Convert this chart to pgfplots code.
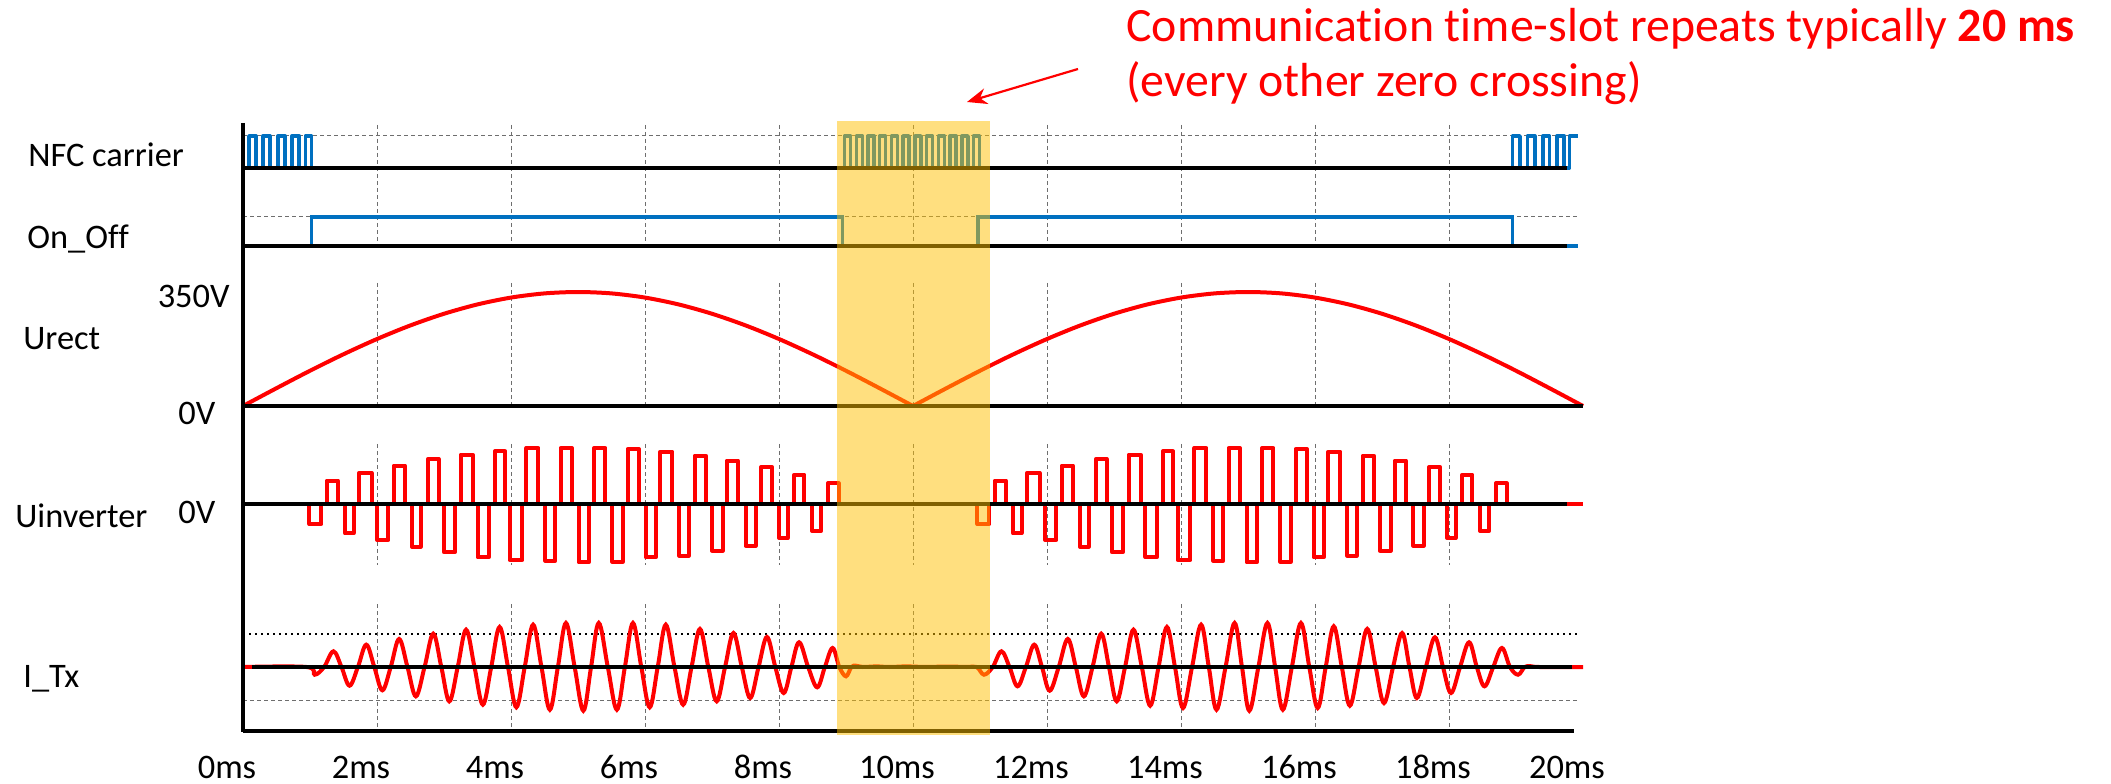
\documentclass[border=0pt]{standalone}
\usepackage{pgfplots}
\pgfplotsset{compat=1.18}
\usepackage{pgfplotstable}
\usepackage{fontspec}
\setmainfont{Carlito}[Ligatures=NoCommon]
\usetikzlibrary{arrows.meta}
\definecolor{nfcblue}{RGB}{0,112,192}
\definecolor{gold}{RGB}{255,192,0}
\definecolor{gridgray}{RGB}{110,110,110}
\newcommand{\lbl}{\fontsize{17.2}{20}\selectfont}
\tikzset{gridline/.style={gridgray, line width=0.5pt, dash pattern=on 2pt off 1.5pt}}

% NFC carrier (logic level)
\pgfplotstableread{
t v
0 0
0.09 1
0.19 0
0.30 1
0.40 0
0.52 1
0.63 0
0.73 1
0.84 0
0.93 1
1.02 0
8.98 1
9.07 0
9.155 1
9.245 0
9.33 1
9.42 0
9.50 1
9.59 0
9.68 1
9.77 0
9.85 1
9.94 0
10.03 1
10.12 0
10.20 1
10.29 0
10.38 1
10.47 0
10.55 1
10.64 0
10.73 1
10.82 0
10.90 1
10.99 0
18.95 1
19.06 0
19.17 1
19.28 0
19.40 1
19.50 0
19.61 1
19.72 0
19.80 1
19.93 1
}\nfc

% On_Off (logic level)
\pgfplotstableread{
t v
0 0
1.02 1
8.95 0
10.97 1
18.95 0
19.93 0
}\onoff

% Urect in V
\pgfplotstableread{
t V
0 0
0.5 54.7
1 108.2
1.5 158.9
2 205.7
2.5 247.5
3 283.2
3.5 311.9
4 332.9
4.5 345.7
5 350
5.5 345.7
6 332.9
6.5 311.9
7 283.2
7.5 247.5
8 205.7
8.5 158.9
9 108.2
9.5 54.7
10 0
}\urectA
\pgfplotstableread{
t V
10 0
10.5 54.7
11 108.2
11.5 158.9
12 205.7
12.5 247.5
13 283.2
13.5 311.9
14 332.9
14.5 345.7
15 350
15.5 345.7
16 332.9
16.5 311.9
17 283.2
17.5 247.5
18 205.7
18.5 158.9
19 108.2
19.5 54.7
20 0
}\urectB

% Uinverter (relative amplitude)
\pgfplotstableread{
t v
0 0
0.99 -20
1.17 0
1.25 23.3
1.42 0
1.52 -29.3
1.65 0
1.73 31
1.92 0
2.00 -36
2.17 0
2.25 38.3
2.42 0
2.52 -42.7
2.65 0
2.76 45
2.92 0
3.00 -48.3
3.16 0
3.25 49.3
3.43 0
3.50 -53.3
3.67 0
3.76 52.7
3.91 0
3.98 -56
4.17 0
4.23 56
4.41 0
4.51 -56.7
4.66 0
4.74 56
4.91 0
5.01 -58.3
5.16 0
5.24 56
5.41 0
5.51 -57.7
5.67 0
5.74 55
5.91 0
6.01 -53.3
6.16 0
6.23 52.3
6.41 0
6.51 -51.7
6.65 0
6.74 48.3
6.91 0
7.00 -46.7
7.16 0
7.22 43.3
7.39 0
7.50 -41.7
7.65 0
7.73 36.7
7.90 0
8.00 -34
8.13 0
8.23 29.3
8.38 0
8.49 -26.7
8.63 0
8.73 20.7
8.89 0
10.96 -20
11.14 0
11.22 23.3
11.39 0
11.49 -29.3
11.62 0
11.70 31
11.89 0
11.97 -36
12.14 0
12.22 38.3
12.39 0
12.49 -42.7
12.62 0
12.73 45
12.89 0
12.97 -48.3
13.13 0
13.22 49.3
13.40 0
13.47 -53.3
13.64 0
13.73 52.7
13.88 0
13.95 -56
14.14 0
14.20 56
14.38 0
14.48 -56.7
14.63 0
14.71 56
14.88 0
14.98 -58.3
15.13 0
15.21 56
15.38 0
15.48 -57.7
15.64 0
15.71 55
15.88 0
15.98 -53.3
16.13 0
16.20 52.3
16.38 0
16.48 -51.7
16.62 0
16.71 48.3
16.88 0
16.97 -46.7
17.13 0
17.19 43.3
17.36 0
17.47 -41.7
17.62 0
17.70 36.7
17.87 0
17.97 -34
18.10 0
18.20 29.3
18.35 0
18.46 -26.7
18.60 0
18.70 20.7
18.86 0
20 0
}\uinv

% I_Tx (relative amplitude)
\pgfplotstableread{
t v
0 0
0.95 0
1.07 -7.7
1.21 0
1.35 15.7
1.47 0
1.59 -18.7
1.715 0
1.84 22.3
1.96 0
2.08 -23.3
2.205 0
2.33 28
2.455 0
2.58 -29.3
2.71 0
2.84 33.3
2.96 0
3.08 -34.3
3.205 0
3.33 37.3
3.455 0
3.58 -37.7
3.705 0
3.83 40
3.955 0
4.08 -40.3
4.205 0
4.33 42.3
4.455 0
4.58 -42.7
4.70 0
4.82 44
4.95 0
5.08 -43.7
5.195 0
5.31 44
5.445 0
5.58 -42.7
5.70 0
5.82 44
5.945 0
6.07 -40.3
6.19 0
6.31 42.3
6.44 0
6.57 -37.7
6.695 0
6.82 38
6.945 0
7.07 -34.3
7.195 0
7.32 34
7.445 0
7.57 -31
7.695 0
7.82 30
7.945 0
8.07 -26
8.185 0
8.30 24.7
8.435 0
8.57 -20.3
8.685 0
8.80 19
8.90 0
9.00 -9.3
9.08 0
9.15 1.3
9.25 0
9.45 0.6
9.65 0
9.9 0.6
10.2 0
10.5 0.5
10.8 0
10.95 0
11.06 -7.7
11.19 0
11.32 15.7
11.44 0
11.56 -19.3
11.685 0
11.81 22.3
11.925 0
12.04 -23.7
12.175 0
12.31 28
12.43 0
12.55 -29.3
12.68 0
12.81 33.3
12.925 0
13.04 -34.3
13.165 0
13.29 37.3
13.415 0
13.54 -38.7
13.665 0
13.79 40
13.91 0
14.03 -41
14.165 0
14.30 42.3
14.415 0
14.53 -42.7
14.665 0
14.80 44
14.91 0
15.02 -43.7
15.155 0
15.29 44
15.405 0
15.52 -42.7
15.655 0
15.79 44
15.915 0
16.04 -41
16.16 0
16.28 40.7
16.40 0
16.52 -38.7
16.65 0
16.78 38
16.905 0
17.03 -36
17.165 0
17.30 34
17.41 0
17.52 -31
17.655 0
17.79 29.7
17.91 0
18.03 -26
18.165 0
18.30 24.7
18.415 0
18.53 -19.3
18.66 0
18.79 19
18.91 0
19.03 -7.7
19.13 0
19.22 0.8
19.35 0
20 0
}\itx

\begin{document}
\begin{tikzpicture}
\useasboundingbox (0,0) rectangle (1055.5pt,391.5pt);
\begin{axis}[
  at={(121.5pt,26pt)}, anchor=south west,
  scale only axis, width=670pt, height=305pt,
  xmin=0, xmax=20, ymin=-731, ymax=-121,
  axis line style={draw=none},
  ytick=\empty,
  xtick={0,2,...,20},
  xticklabels={0ms,2ms,4ms,6ms,8ms,10ms,12ms,14ms,16ms,18ms,20ms},
  major tick length=0pt,
  tick style={draw=none},
  xticklabel style={anchor=base, yshift=-23.5pt, xshift=-8pt, font=\lbl},
  clip=false,
]
% vertical grid lines, one band per trace
\pgfplotsinvokeforeach{2,4,6,8,10,12,14,16,18}{
  \draw[gridline] (#1,-125) -- (#1,-246);
  \draw[gridline] (#1,-283) -- (#1,-406);
  \draw[gridline] (#1,-444) -- (#1,-565);
  \draw[gridline] (#1,-604) -- (#1,-731);
}
% horizontal reference lines
\draw[gridline] (0,-136) -- (19.93,-136);
\draw[gridline] (0,-217) -- (19.93,-217);
\draw[black, line width=1.2pt, dash pattern=on 1.2pt off 1.8pt] (0,-634) -- (19.93,-634);
\draw[gridline] (0,-700) -- (19.93,-700);

% signals
\addplot[nfcblue, line width=1.8pt, const plot, line join=round] table[x=t, y expr={-168+32*\thisrow{v}}] {\nfc};
\addplot[nfcblue, line width=1.8pt, const plot] table[x=t, y expr={-246+29*\thisrow{v}}] {\onoff};
\addplot[red, line width=2pt, smooth] table[x=t, y expr={-406+\thisrow{V}*0.3257}] {\urectA};
\addplot[red, line width=2pt, smooth] table[x=t, y expr={-406+\thisrow{V}*0.3257}] {\urectB};
\addplot[red, line width=2pt, const plot, line join=round] table[x=t, y expr={-504+\thisrow{v}}] {\uinv};
\addplot[red, line width=2pt, smooth, tension=0.6] table[x=t, y expr={-667+\thisrow{v}}] {\itx};

% black base lines
\draw[line width=2.1pt] (0,-123) -- (0,-732);
\draw[line width=2.1pt] (0,-168) -- (19.76,-168);
\draw[line width=2.1pt] (0,-246) -- (19.76,-246);
\draw[line width=2.1pt] (0,-406) -- (20,-406);
\draw[line width=2.1pt] (0,-504) -- (19.76,-504);
\draw[line width=2.1pt] (0.13,-667) -- (19.84,-667);
\draw[line width=2.1pt] (0,-731) -- (19.87,-731);

% communication time slot
\fill[gold, opacity=0.5] (8.87,-121) rectangle (11.15,-735);
\end{axis}

\begin{scope}[shift={(0pt,391.5pt)}, x=0.5pt, y=-0.5pt]
\node[anchor=base west, inner sep=0, font=\lbl] at (28,167) {NFC carrier};
\node[anchor=base west, inner sep=0, font=\lbl] at (27,249) {On\_Off};
\node[anchor=base east, inner sep=0, font=\lbl] at (230,308) {350V};
\node[anchor=base west, inner sep=0, font=\lbl] at (23,350) {Urect};
\node[anchor=base west, inner sep=0, font=\lbl] at (178,425) {0V};
\node[anchor=base west, inner sep=0, font=\lbl] at (15,527) {Uinverter};
\node[anchor=base west, inner sep=0, font=\lbl] at (178,523) {0V};
\node[anchor=base west, inner sep=0, font=\lbl] at (23,687) {I\_Tx};
\node[anchor=base west, inner sep=0, text=red, font=\fontsize{23.9}{28}\selectfont] at (1126,42) {Communication time-slot repeats typically \textbf{20 ms}};
\node[anchor=base west, inner sep=0, text=red, font=\fontsize{23.9}{28}\selectfont] at (1126,97) {(every other zero crossing)};
\draw[red, line width=1.1pt, -{Stealth[length=10pt,width=8pt]}] (1078,69) -- (967,102);
\end{scope}
\end{tikzpicture}
\end{document}
